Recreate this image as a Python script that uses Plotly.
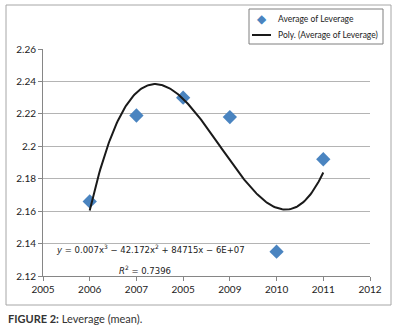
import numpy as np
import plotly.graph_objects as go

years = [2006, 2007, 2008, 2009, 2010, 2011]
leverage = [2.166, 2.219, 2.230, 2.218, 2.135, 2.192]
tick_vals = [2005, 2006, 2007, 2008, 2009, 2010, 2011, 2012]
tick_text = ["2005", "2006", "2007", "2005", "2009", "2010", "2011", "2012"]
y_ticks = [2.12, 2.14, 2.16, 2.18, 2.2, 2.22, 2.24, 2.26]
y_text = ["2.12", "2.14", "2.16", "2.18", "2.2", "2.22", "2.24", "2.26"]
series_name = "Average of Leverage"
trend_name = "Poly. (Average of Leverage)"

# cubic polynomial trendline (least squares, like the spreadsheet trendline)
xc = np.array(years, dtype=float) - 2008.5
coef = np.polyfit(xc, np.array(leverage), 3)
xs = np.linspace(years[0], years[-1], 200)
ys = np.polyval(coef, xs - 2008.5)

W, H = 395, 328
L, R, T, B = 43, 370, 49, 276
FONT = "Lato"
BLUE = "#4a84c0"

def px(x):
    return (x - L) / (R - L)

def py(y):
    return (B - y) / (B - T)

fig = go.Figure()
fig.add_trace(go.Scatter(
    x=years, y=leverage, mode="markers", name=series_name,
    marker=dict(symbol="diamond", size=11, color=BLUE),
))
fig.add_trace(go.Scatter(
    x=xs, y=ys, mode="lines", name=trend_name,
    line=dict(color="#1a1a1a", width=2),
))

fig.update_layout(
    width=W, height=H,
    margin=dict(l=L, r=W - R, t=T, b=H - B, autoexpand=False),
    paper_bgcolor="white", plot_bgcolor="white",
    font=dict(family=FONT, size=9, color="#222"),
    showlegend=False,
    xaxis=dict(
        range=[2005, 2012], tickvals=tick_vals, ticktext=tick_text,
        showgrid=False, zeroline=False, showline=True, linecolor="#868686",
        linewidth=1, ticks="outside", ticklen=4, tickcolor="#868686",
        tickfont=dict(size=10, family=FONT),
    ),
    yaxis=dict(
        range=[2.12, 2.26], tickvals=y_ticks, ticktext=y_text,
        showgrid=True, gridcolor="#b4b4b4", gridwidth=1,
        zeroline=False, showline=True, linecolor="#868686", linewidth=1,
        ticks="outside", ticklen=4, tickcolor="#868686",
        tickfont=dict(size=10, family=FONT),
    ),
)

# outer chart border
fig.add_shape(type="rect", xref="paper", yref="paper",
              x0=px(6), x1=px(391), y0=py(305), y1=py(5),
              line=dict(color="#a6a6a6", width=1), layer="above")

# legend box
fig.add_shape(type="rect", xref="paper", yref="paper",
              x0=px(249), x1=px(383), y0=py(44), y1=py(9),
              line=dict(color="#7f7f7f", width=1), fillcolor="white",
              layer="above")
fig.add_shape(type="line", xref="paper", yref="paper",
              x0=px(252), x1=px(271), y0=py(35), y1=py(35),
              line=dict(color="#1a1a1a", width=2), layer="above")
fig.add_annotation(
    xref="paper", yref="paper", x=px(261.5), y=py(19.5),
    xanchor="center", yanchor="middle", text="◆",
    showarrow=False, font=dict(size=12, family="DejaVu Sans", color=BLUE),
)
fig.add_annotation(
    xref="paper", yref="paper", x=px(276), y=py(19.5),
    xanchor="left", yanchor="middle", text=series_name,
    showarrow=False, font=dict(size=8.5, family=FONT, color="#222"),
)
fig.add_annotation(
    xref="paper", yref="paper", x=px(276), y=py(35),
    xanchor="left", yanchor="middle", text=trend_name,
    showarrow=False, font=dict(size=8.5, family=FONT, color="#222"),
)

fig.add_annotation(
    xref="paper", yref="paper", x=px(150), y=py(249),
    xanchor="center", yanchor="middle",
    text="<i>y</i> = 0.007x<sup>3</sup> − 42.172x<sup>2</sup> + 84715x − 6E+07",
    showarrow=False, font=dict(size=8.5, family="DejaVu Sans", color="#222"),
)
fig.add_annotation(
    xref="paper", yref="paper", x=px(145), y=py(270),
    xanchor="center", yanchor="middle",
    text="<i>R</i><sup>2</sup> = 0.7396",
    showarrow=False, font=dict(size=8.5, family="DejaVu Sans", color="#222"),
)
fig.add_annotation(
    xref="paper", yref="paper", x=px(6), y=py(318), xanchor="left",
    yanchor="middle",
    text="<b>FIGURE 2:</b> Leverage (mean).",
    showarrow=False, font=dict(size=11, family=FONT, color="#333"),
)

fig.write_html("out.html", config={"displayModeBar": False},
               post_script="document.body.style.margin='0';")
